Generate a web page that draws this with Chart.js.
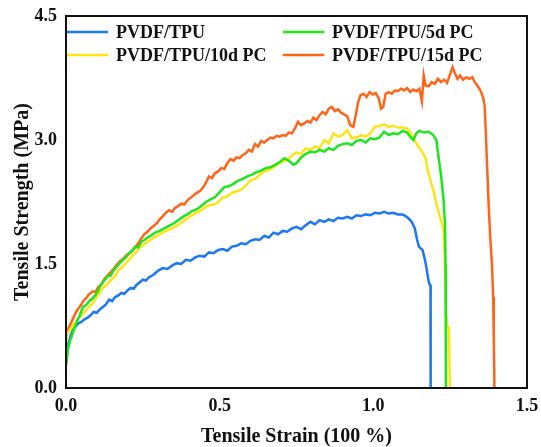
<!DOCTYPE html>
<html>
<head>
<meta charset="utf-8">
<script src="https://cdn.jsdelivr.net/npm/chart.js@4/dist/chart.umd.min.js"></script>
<style>
  html, body { margin: 0; padding: 0; background: #fff; }
  #wrap { width: 541px; height: 447px; position: relative; }
</style>
</head>
<body>
<div id="wrap"><canvas id="tensile"></canvas></div>
<script>
var seriesNames = ['PVDF/TPU', 'PVDF/TPU/5d PC', 'PVDF/TPU/10d PC', 'PVDF/TPU/15d PC'];
var seriesColors = ['#1a78f5', '#1ee61e', '#ffe414', '#ff6419'];
var xTicks = [0, 0.5, 1.0, 1.5];
var yTicks = [0, 1.5, 3.0, 4.5];

// PVDF/TPU
var strainTPU = [0.000, 0.004, 0.008, 0.015, 0.022, 0.030, 0.040, 0.050, 0.060, 0.070, 0.080, 0.090, 0.100, 0.110, 0.120, 0.130,
  0.140, 0.150, 0.160, 0.170, 0.180, 0.190, 0.200, 0.210, 0.220, 0.230, 0.240, 0.250, 0.260, 0.270, 0.285, 0.300, 0.315, 0.330,
  0.345, 0.360, 0.375, 0.390, 0.405, 0.420, 0.435, 0.450, 0.465, 0.480, 0.495, 0.510, 0.525, 0.540, 0.555, 0.570, 0.585, 0.600,
  0.615, 0.630, 0.645, 0.660, 0.675, 0.690, 0.705, 0.720, 0.735, 0.750, 0.765, 0.780, 0.795, 0.810, 0.825, 0.840, 0.855, 0.870,
  0.885, 0.900, 0.915, 0.930, 0.945, 0.960, 0.975, 0.990, 1.005, 1.020, 1.035, 1.050, 1.065, 1.080, 1.095, 1.105, 1.115, 1.125,
  1.135, 1.142, 1.148, 1.160, 1.168, 1.173, 1.178, 1.182, 1.186, 1.186, 1.187];
var stressTPU = [0.28, 0.42, 0.54, 0.63, 0.70, 0.74, 0.78, 0.80, 0.83, 0.85, 0.88, 0.92, 0.91, 0.95, 0.98, 1.01,
  1.07, 1.05, 1.10, 1.12, 1.15, 1.14, 1.18, 1.21, 1.20, 1.25, 1.28, 1.31, 1.30, 1.34, 1.37, 1.42, 1.45, 1.44,
  1.48, 1.51, 1.50, 1.55, 1.54, 1.58, 1.60, 1.59, 1.64, 1.63, 1.67, 1.68, 1.66, 1.71, 1.72, 1.75, 1.74, 1.78,
  1.80, 1.79, 1.84, 1.82, 1.88, 1.86, 1.90, 1.89, 1.93, 1.95, 1.92, 1.97, 2.01, 1.98, 2.03, 2.01, 2.04, 2.02,
  2.06, 2.05, 2.07, 2.05, 2.09, 2.08, 2.10, 2.09, 2.12, 2.11, 2.13, 2.11, 2.12, 2.10, 2.10, 2.08, 2.05, 2.01,
  1.93, 1.80, 1.71, 1.67, 1.55, 1.45, 1.33, 1.26, 1.24, 0.55, 0.00];

// PVDF/TPU/5d PC
var strain5d = [0.000, 0.004, 0.008, 0.014, 0.020, 0.027, 0.035, 0.045, 0.055, 0.065, 0.075, 0.085, 0.095, 0.105, 0.115, 0.125,
  0.135, 0.145, 0.155, 0.165, 0.175, 0.185, 0.195, 0.205, 0.215, 0.225, 0.235, 0.245, 0.255, 0.265, 0.275, 0.290, 0.305, 0.320,
  0.335, 0.350, 0.365, 0.380, 0.395, 0.410, 0.425, 0.440, 0.455, 0.470, 0.485, 0.500, 0.515, 0.530, 0.545, 0.560, 0.575, 0.590,
  0.605, 0.620, 0.635, 0.650, 0.665, 0.680, 0.695, 0.710, 0.725, 0.740, 0.750, 0.765, 0.780, 0.795, 0.810, 0.825, 0.840, 0.855,
  0.870, 0.885, 0.900, 0.915, 0.930, 0.945, 0.960, 0.975, 0.990, 1.005, 1.020, 1.035, 1.050, 1.065, 1.080, 1.095, 1.110, 1.120,
  1.130, 1.140, 1.150, 1.165, 1.180, 1.195, 1.205, 1.212, 1.220, 1.228, 1.233, 1.235, 1.236];
var stress5d = [0.28, 0.40, 0.50, 0.58, 0.64, 0.72, 0.80, 0.88, 0.98, 1.00, 1.05, 1.08, 1.12, 1.18, 1.26, 1.30,
  1.35, 1.36, 1.42, 1.47, 1.51, 1.55, 1.58, 1.63, 1.66, 1.71, 1.70, 1.77, 1.79, 1.82, 1.84, 1.88, 1.90, 1.93,
  1.96, 1.99, 2.03, 2.07, 2.10, 2.14, 2.16, 2.20, 2.25, 2.28, 2.31, 2.37, 2.43, 2.44, 2.47, 2.51, 2.53, 2.56,
  2.58, 2.61, 2.63, 2.66, 2.67, 2.70, 2.73, 2.78, 2.75, 2.70, 2.72, 2.79, 2.83, 2.86, 2.85, 2.88, 2.86, 2.90,
  2.88, 2.93, 2.95, 2.96, 2.94, 2.99, 3.00, 2.97, 3.02, 3.01, 3.03, 3.10, 3.06, 3.08, 3.07, 3.11, 3.09, 3.04,
  3.00, 3.08, 3.11, 3.09, 3.10, 3.06, 3.00, 2.80, 2.58, 2.30, 2.00, 1.50, 0.00];

// PVDF/TPU/10d PC
var strain10d = [0.000, 0.003, 0.008, 0.015, 0.023, 0.032, 0.040, 0.048, 0.055, 0.065, 0.075, 0.088, 0.100, 0.110, 0.120, 0.130,
  0.140, 0.150, 0.160, 0.170, 0.180, 0.190, 0.200, 0.210, 0.220, 0.230, 0.240, 0.255, 0.270, 0.285, 0.300, 0.315, 0.330, 0.345,
  0.360, 0.375, 0.390, 0.405, 0.420, 0.435, 0.450, 0.465, 0.480, 0.495, 0.510, 0.525, 0.540, 0.555, 0.570, 0.585, 0.600, 0.615,
  0.630, 0.645, 0.660, 0.675, 0.690, 0.705, 0.720, 0.735, 0.750, 0.765, 0.780, 0.795, 0.810, 0.825, 0.840, 0.855, 0.870, 0.885,
  0.900, 0.915, 0.930, 0.945, 0.960, 0.975, 0.990, 1.005, 1.020, 1.035, 1.050, 1.065, 1.080, 1.095, 1.110, 1.122, 1.132, 1.145,
  1.160, 1.170, 1.178, 1.188, 1.196, 1.204, 1.212, 1.220, 1.228, 1.232, 1.236, 1.240, 1.246, 1.249];
var stress10d = [0.58, 0.64, 0.68, 0.72, 0.76, 0.80, 0.84, 0.87, 0.90, 0.94, 0.98, 1.03, 1.10, 1.16, 1.21, 1.24,
  1.28, 1.32, 1.35, 1.42, 1.45, 1.49, 1.53, 1.57, 1.62, 1.65, 1.70, 1.74, 1.78, 1.82, 1.85, 1.88, 1.91, 1.93,
  1.96, 2.00, 2.04, 2.08, 2.11, 2.14, 2.18, 2.21, 2.22, 2.25, 2.30, 2.32, 2.36, 2.38, 2.40, 2.45, 2.51, 2.53,
  2.58, 2.62, 2.64, 2.67, 2.71, 2.74, 2.76, 2.81, 2.85, 2.83, 2.90, 2.88, 2.92, 2.90, 3.00, 2.96, 3.08, 3.04,
  3.06, 3.12, 3.02, 3.03, 3.06, 3.04, 3.08, 3.16, 3.17, 3.19, 3.16, 3.17, 3.15, 3.15, 3.14, 3.08, 3.01, 2.93,
  2.85, 2.78, 2.62, 2.48, 2.38, 2.25, 2.13, 2.03, 1.93, 1.60, 0.95, 0.75, 0.73, 0.00];

// PVDF/TPU/15d PC
var strain15d = [0.000, 0.004, 0.010, 0.018, 0.025, 0.033, 0.040, 0.048, 0.056, 0.064, 0.072, 0.080, 0.088, 0.096, 0.105, 0.115,
  0.125, 0.135, 0.145, 0.155, 0.165, 0.175, 0.185, 0.195, 0.205, 0.215, 0.225, 0.235, 0.245, 0.255, 0.265, 0.275, 0.285, 0.295,
  0.305, 0.315, 0.325, 0.335, 0.345, 0.355, 0.365, 0.375, 0.385, 0.395, 0.405, 0.415, 0.425, 0.435, 0.445, 0.455, 0.465, 0.475,
  0.485, 0.495, 0.505, 0.515, 0.525, 0.535, 0.545, 0.555, 0.565, 0.575, 0.585, 0.595, 0.605, 0.615, 0.625, 0.635, 0.645, 0.655,
  0.665, 0.675, 0.685, 0.695, 0.705, 0.715, 0.725, 0.735, 0.745, 0.755, 0.765, 0.775, 0.785, 0.795, 0.805, 0.815, 0.825, 0.835,
  0.845, 0.855, 0.865, 0.875, 0.885, 0.895, 0.905, 0.915, 0.925, 0.935, 0.942, 0.950, 0.958, 0.968, 0.978, 0.988, 0.998, 1.008,
  1.018, 1.025, 1.032, 1.040, 1.050, 1.060, 1.070, 1.080, 1.090, 1.100, 1.110, 1.120, 1.130, 1.140, 1.150, 1.158, 1.164, 1.170,
  1.180, 1.190, 1.200, 1.210, 1.220, 1.230, 1.240, 1.250, 1.258, 1.266, 1.274, 1.282, 1.292, 1.302, 1.312, 1.322, 1.330, 1.338,
  1.345, 1.352, 1.358, 1.362, 1.366, 1.370, 1.375, 1.380, 1.386, 1.390, 1.392, 1.394];
var stress15d = [0.62, 0.68, 0.74, 0.80, 0.86, 0.92, 0.96, 1.00, 1.05, 1.08, 1.12, 1.15, 1.17, 1.16, 1.22, 1.25,
  1.32, 1.36, 1.40, 1.44, 1.49, 1.53, 1.56, 1.60, 1.63, 1.66, 1.70, 1.75, 1.81, 1.86, 1.89, 1.93, 1.96, 1.99,
  2.04, 2.08, 2.12, 2.15, 2.13, 2.18, 2.20, 2.23, 2.22, 2.27, 2.30, 2.33, 2.36, 2.38, 2.42, 2.48, 2.56, 2.54,
  2.60, 2.62, 2.66, 2.65, 2.72, 2.77, 2.75, 2.79, 2.78, 2.82, 2.84, 2.88, 2.86, 2.95, 2.92, 2.99, 2.97, 3.00,
  3.03, 3.02, 3.05, 3.04, 3.06, 3.05, 3.09, 3.08, 3.14, 3.22, 3.18, 3.20, 3.23, 3.21, 3.27, 3.24, 3.30, 3.34,
  3.31, 3.38, 3.40, 3.35, 3.37, 3.33, 3.31, 3.29, 3.18, 3.16, 3.28, 3.45, 3.54, 3.56, 3.52, 3.58, 3.55, 3.57,
  3.50, 3.38, 3.40, 3.56, 3.58, 3.56, 3.60, 3.59, 3.62, 3.60, 3.63, 3.58, 3.61, 3.59, 3.62, 3.47, 3.78, 3.66,
  3.65, 3.70, 3.68, 3.74, 3.70, 3.73, 3.69, 3.80, 3.88, 3.80, 3.74, 3.78, 3.73, 3.76, 3.74, 3.76, 3.70, 3.66,
  3.62, 3.57, 3.50, 3.42, 3.10, 2.70, 2.24, 1.85, 1.50, 1.10, 0.60, 0.00];

var strains = [strainTPU, strain5d, strain10d, strain15d];
var stresses = [stressTPU, stress5d, stress10d, stress15d];
// green is drawn on top, blue at the bottom
var drawOrder = [4, 1, 2, 3];

function toPoints(xs, ys) {
  var pts = [];
  for (var i = 0; i < xs.length; i++) {
    pts.push({ x: xs[i], y: ys[i] });
  }
  return pts;
}

var datasets = seriesNames.map(function (name, i) {
  return {
    label: name,
    data: toPoints(strains[i], stresses[i]),
    borderColor: seriesColors[i],
    backgroundColor: seriesColors[i],
    borderWidth: 2.5,
    pointRadius: 0,
    tension: 0,
    fill: false,
    order: drawOrder[i]
  };
});

// box around the plot area plus the two-column legend inside it
var frameAndLegend = {
  id: 'frameAndLegend',
  afterDraw: function (chart) {
    var a = chart.chartArea;
    var ctx = chart.ctx;
    ctx.save();
    ctx.strokeStyle = '#111';
    ctx.lineWidth = 2;
    ctx.strokeRect(a.left, a.top, a.right - a.left, a.bottom - a.top);

    var colX = [a.left + 1, a.left + 217];
    var rowY = [a.top + 16, a.top + 39];
    ctx.font = 'bold 18px "Liberation Serif", "Times New Roman", serif';
    ctx.textBaseline = 'middle';
    ctx.textAlign = 'left';
    chart.data.datasets.forEach(function (ds, i) {
      var x = colX[i % 2];
      var y = rowY[Math.floor(i / 2)];
      ctx.strokeStyle = ds.borderColor;
      ctx.lineWidth = 2.5;
      ctx.beginPath();
      ctx.moveTo(x, y);
      ctx.lineTo(x + 41, y);
      ctx.stroke();
      ctx.fillStyle = '#111';
      ctx.fillText(ds.label, x + 49, y + 1);
    });
    ctx.restore();
  }
};

Chart.defaults.font.family = '"Liberation Serif", "Times New Roman", serif';
Chart.defaults.color = '#111';

new Chart(document.getElementById('tensile'), {
  type: 'line',
  data: { datasets: datasets },
  plugins: [frameAndLegend],
  options: {
    responsive: true,
    maintainAspectRatio: false,
    animation: false,
    layout: { padding: { top: 16, right: 14, left: 0, bottom: 0 } },
    plugins: {
      legend: { display: false },
      tooltip: { enabled: false }
    },
    scales: {
      x: {
        type: 'linear',
        min: 0,
        max: 1.5,
        afterFit: function (scale) {
          scale.height = 59;
          scale.paddingLeft = 0;
          scale.paddingRight = 0;
        },
        afterBuildTicks: function (scale) {
          scale.ticks = xTicks.map(function (v) { return { value: v }; });
        },
        grid: { display: false, drawTicks: false },
        border: { display: false },
        ticks: {
          autoSkip: false,
          maxRotation: 0,
          padding: 8,
          font: { size: 18, weight: 'bold' },
          callback: function (v) { return Number(v).toFixed(1); }
        },
        title: {
          display: true,
          text: 'Tensile Strain (100 %)',
          font: { size: 20, weight: 'bold', lineHeight: 1 },
          padding: { top: 0, bottom: 0 }
        }
      },
      y: {
        type: 'linear',
        min: 0,
        max: 4.5,
        afterFit: function (scale) {
          scale.width = 66;
          scale.paddingTop = 0;
          scale.paddingBottom = 0;
        },
        afterBuildTicks: function (scale) {
          scale.ticks = yTicks.map(function (v) { return { value: v }; });
        },
        grid: { display: false, drawTicks: false },
        border: { display: false },
        ticks: {
          autoSkip: false,
          padding: 9,
          font: { size: 18, weight: 'bold' },
          callback: function (v) { return Number(v).toFixed(1); }
        },
        title: {
          display: true,
          text: 'Tensile Strength (MPa)',
          font: { size: 20, weight: 'bold' },
          padding: { top: 11, bottom: 0 }
        }
      }
    }
  }
});
</script>
</body>
</html>
